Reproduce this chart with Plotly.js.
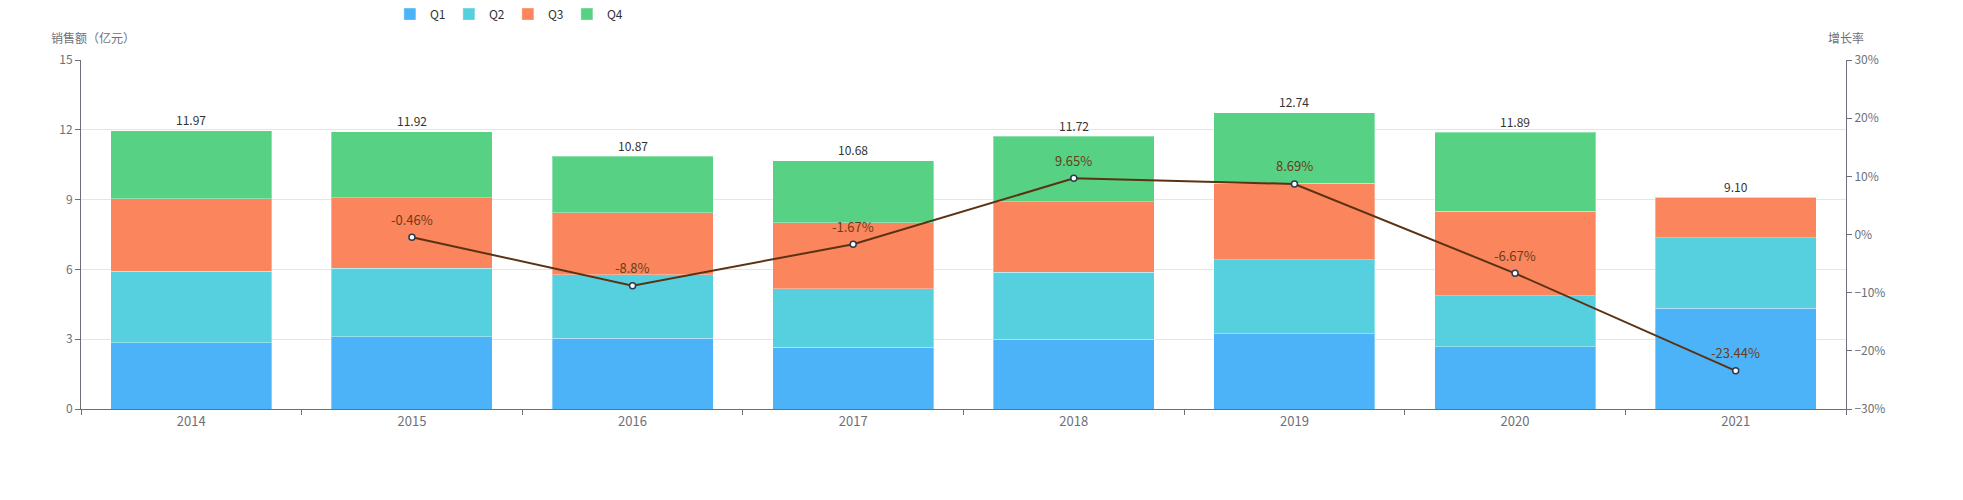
<!DOCTYPE html>
<html>
<head>
<meta charset="utf-8">
<script src="https://cdn.plot.ly/plotly-3.0.1.min.js"></script>
<style>
html,body{margin:0;padding:0;background:#fff;}
#chart{width:1963px;height:500px;}
</style>
</head>
<body>
<div id="chart"></div>
<script>
var years = ['2014','2015','2016','2017','2018','2019','2020','2021'];
var q1 = [2.85, 3.11, 3.04, 2.66, 3.00, 3.24, 2.68, 4.32];
var q2 = [3.06, 2.95, 2.72, 2.51, 2.88, 3.17, 2.18, 3.05];
var q3 = [3.12, 3.01, 2.68, 2.84, 3.03, 3.30, 3.64, 1.73];
var q4 = [2.94, 2.85, 2.43, 2.67, 2.81, 3.03, 3.39, 0];
var totals = [11.97, 11.92, 10.87, 10.68, 11.72, 12.74, 11.89, 9.10];
var growthYears = ['2015','2016','2017','2018','2019','2020','2021'];
var growth = [-0.46, -8.8, -1.67, 9.65, 8.69, -6.67, -23.44];
var growthLabels = ['-0.46%','-8.8%','-1.67%','9.65%','8.69%','-6.67%','-23.44%'];
var seriesNames = ['Q1','Q2','Q3','Q4'];
var colors = ['#4db3f8','#56cfdf','#fb855c','#57d184'];

var font = '"Noto Sans CJK SC", "Noto Sans", sans-serif';
var quarters = [q1,q2,q3,q4];
var traces = [];
quarters.forEach(function(q,i){
  traces.push({
    type:'bar', x:years, y:q, name:seriesNames[i],
    marker:{color:colors[i], line:{color:'rgba(255,255,255,0.35)', width:1}},
    hoverinfo:'x+y+name'
  });
});
traces.push({
  type:'scatter', mode:'lines+markers', x:growthYears, y:growth, yaxis:'y2',
  line:{color:'#5b3212', width:2},
  marker:{symbol:'circle', size:6, color:'#ffffff', line:{color:'#2b3a55', width:1.5}},
  showlegend:false, cliponaxis:false
});

var annotations = [];
years.forEach(function(y,i){
  annotations.push({x:i, y:totals[i], xref:'x', yref:'y', text:totals[i].toFixed(2), showarrow:false,
    yshift:11, font:{family:font, size:12, color:'#333'}});
});
growthYears.forEach(function(y,i){
  annotations.push({x:years.indexOf(y), y:growth[i], xref:'x', yref:'y2', text:growthLabels[i], showarrow:false,
    yshift:18, font:{family:font, size:13, color:'#6a3d1a'}});
});
annotations.push({xref:'paper', yref:'paper', x:-0.018, y:1.035, xanchor:'left', yanchor:'bottom',
  text:'销售额（亿元）', showarrow:false, font:{family:font, size:12, color:'#6e7079'}});
annotations.push({xref:'paper', yref:'paper', x:1.0, y:1.035, xanchor:'center', yanchor:'bottom',
  text:'增长率', showarrow:false, font:{family:font, size:12, color:'#6e7079'}});

var layout = {
  width:1963, height:500,
  margin:{l:81, r:117, t:60, b:91, autoexpand:false},
  paper_bgcolor:'#fff', plot_bgcolor:'#fff',
  barmode:'stack', bargap:0.27,
  font:{family:font, size:12, color:'#6e7079'},
  xaxis:{type:'category', range:[-0.5, years.length-0.5], autorange:false,
    tickson:'boundaries', ticks:'outside', ticklen:5, tickcolor:'#6e7079',
    showline:true, linecolor:'#6e7079', linewidth:1, showgrid:false,
    tickfont:{family:font, size:13, color:'#6e7079'}},
  yaxis:{range:[0,15], dtick:3, tick0:0, ticks:'outside', ticklen:5, tickcolor:'#6e7079',
    showline:true, linecolor:'#6e7079', linewidth:1, gridcolor:'#e0e6f1', zeroline:false,
    tickfont:{family:font, size:12, color:'#6e7079'}},
  yaxis2:{range:[-30,30], dtick:10, tick0:0, overlaying:'y', side:'right', ticksuffix:'%',
    ticks:'outside', ticklen:5, tickcolor:'#6e7079', showline:true, linecolor:'#6e7079', linewidth:1,
    showgrid:false, zeroline:false, tickfont:{family:font, size:12, color:'#6e7079'}},
  legend:{orientation:'h', x:0.175, xanchor:'left', y:1.173, yanchor:'top',
    font:{family:font, size:12, color:'#333'}, entrywidth:14, entrywidthmode:'pixels',
    traceorder:'normal'},
  annotations:annotations,
  showlegend:true
};
Plotly.newPlot('chart', traces, layout, {displayModeBar:false, staticPlot:true});
</script>
</body>
</html>
